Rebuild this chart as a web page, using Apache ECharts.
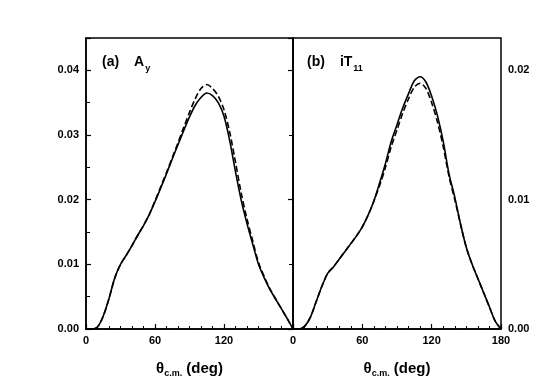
<!DOCTYPE html>
<html>
<head>
<meta charset="utf-8">
<script src="https://cdn.jsdelivr.net/npm/echarts@6/dist/echarts.min.js"></script>
<style>
  html, body { margin: 0; padding: 0; background: #fff; }
  #chart { width: 556px; height: 385px; }
</style>
</head>
<body>
<div id="chart"></div>
<script>
// angles (deg)
var angles = [0, 5, 10, 15, 20, 25, 30, 35, 40, 45, 50, 55, 60, 65, 70, 75, 80, 85, 90,
              95, 100, 105, 110, 115, 120, 125, 130, 135, 140, 145, 150, 155, 160, 165, 170, 175, 180];

// (a) A_y
var ay_solid = [0, 0, 0.0003, 0.0020, 0.0047, 0.0079, 0.0100, 0.0114, 0.0129, 0.0145, 0.0160, 0.0177,
                0.0197, 0.0218, 0.0240, 0.0263, 0.0285, 0.0307, 0.0328, 0.0346, 0.0358, 0.0365, 0.0361,
                0.0350, 0.0329, 0.0291, 0.0243, 0.0199, 0.0163, 0.0131, 0.0100, 0.0079, 0.0061, 0.0046,
                0.0031, 0.0016, 0];
var ay_dash = [0, 0, 0.0003, 0.0020, 0.0047, 0.0079, 0.0100, 0.0114, 0.0129, 0.0145, 0.0160, 0.0177,
               0.0198, 0.0220, 0.0242, 0.0265, 0.0288, 0.0312, 0.0335, 0.0356, 0.0372, 0.0378, 0.0372,
               0.0360, 0.0339, 0.0304, 0.0258, 0.0210, 0.0170, 0.0136, 0.0103, 0.0081, 0.0062, 0.0046,
               0.0031, 0.0016, 0];

// (b) iT11
var it_solid = [0, 0, 0.0002, 0.0009, 0.0021, 0.0033, 0.0043, 0.0048, 0.0054, 0.0060, 0.0066, 0.0072,
                0.0079, 0.0088, 0.0099, 0.0113, 0.0128, 0.0145, 0.0158, 0.0171, 0.0182, 0.0192, 0.0195,
                0.0191, 0.0180, 0.0165, 0.0145, 0.0120, 0.0102, 0.0081, 0.0063, 0.0050, 0.0039, 0.0028,
                0.0017, 0.0006, 0];
var it_dash = [0, 0, 0.0002, 0.0009, 0.0021, 0.0033, 0.0043, 0.0048, 0.0054, 0.0060, 0.0066, 0.0072,
               0.0079, 0.0088, 0.0099, 0.0111, 0.0125, 0.0141, 0.0154, 0.0167, 0.0178, 0.0187, 0.0190,
               0.0186, 0.0175, 0.0160, 0.0141, 0.0118, 0.0100, 0.0081, 0.0063, 0.0050, 0.0039, 0.0028,
               0.0017, 0.0006, 0];

function pairs(ys) {
    return angles.map(function (a, i) { return [a, ys[i]]; });
}

var FONT = 'Liberation Sans';
var chart = echarts.init(document.getElementById('chart'));

function xAxisOf(gridIndex, hideLast) {
    return {
        type: 'value', gridIndex: gridIndex, min: 0, max: 180, interval: 60,
        name: '{t|θ}{s|c.m.}{t| (deg)}',
        nameLocation: 'middle', nameGap: 30,
        nameTextStyle: {
            rich: {
                t: { fontFamily: FONT, fontWeight: 'bold', fontSize: 15, color: '#000' },
                s: { fontFamily: FONT, fontWeight: 'bold', fontSize: 9, color: '#000', padding: [10, 0, 0, 0] }
            }
        },
        axisLine: { lineStyle: { color: '#000', width: 1.5 } },
        axisTick: { inside: true, length: 5, lineStyle: { color: '#000', width: 1.2 } },
        minorTick: { show: true, splitNumber: 6, length: 3, lineStyle: { color: '#000', width: 1 } },
        splitLine: { show: false },
        axisLabel: {
            color: '#000', fontFamily: FONT, fontWeight: 'bold', fontSize: 11, margin: 6,
            formatter: function (v) { return (hideLast && v === 180) ? '' : String(v); }
        }
    };
}

function yAxisOf(gridIndex, pos, max) {
    return {
        type: 'value', gridIndex: gridIndex, position: pos, min: 0, max: max, interval: 0.01,
        axisLine: { show: true, lineStyle: { color: '#000', width: 1.5 } },
        axisTick: { show: true, inside: true, length: 5, lineStyle: { color: '#000', width: 1.2 } },
        minorTick: { show: true, splitNumber: 2, length: 4, lineStyle: { color: '#000', width: 1 } },
        splitLine: { show: false },
        axisLabel: {
            color: '#000', fontFamily: FONT, fontWeight: 'bold', fontSize: 11, margin: 7,
            showMaxLabel: false,
            formatter: function (v) { return v > max - 0.001 ? '' : v.toFixed(2); }
        }
    };
}

function line(name, xi, ys, dashed) {
    return {
        name: name, type: 'line', xAxisIndex: xi, yAxisIndex: xi,
        data: pairs(ys), smooth: 0.3, showSymbol: false, symbol: 'none',
        lineStyle: { color: '#000', width: 1.6, type: dashed ? [6, 3] : 'solid' }
    };
}

// panel labels
var titleRich = {
    a: { fontFamily: FONT, fontWeight: 'bold', fontSize: 14, color: '#000' },
    b: { fontFamily: FONT, fontWeight: 'bold', fontSize: 14, color: '#000' },
    s: { fontFamily: FONT, fontWeight: 'bold', fontSize: 9, color: '#000', padding: [12, 0, 0, 1] }
};

var option = {
    animation: false,
    backgroundColor: '#fff',
    title: [
        { text: '{a|(a)}   {b|A}{s|y}', left: 97, top: 47, textStyle: { rich: titleRich } },
        { text: '{a|(b)}   {b|iT}{s|11}', left: 302, top: 47, textStyle: { rich: titleRich } }
    ],
    grid: [
        { left: 86, top: 38, width: 207, height: 291, show: true, borderColor: '#000', borderWidth: 1.5 },
        { left: 293, top: 38, width: 208, height: 291, show: true, borderColor: '#000', borderWidth: 1.5 }
    ],
    xAxis: [xAxisOf(0, true), xAxisOf(1, false)],
    yAxis: [yAxisOf(0, 'left', 0.045), yAxisOf(1, 'right', 0.0225)],
    series: [
        line('Ay solid', 0, ay_solid, false),
        line('Ay dashed', 0, ay_dash, true),
        line('iT11 solid', 1, it_solid, false),
        line('iT11 dashed', 1, it_dash, true)
    ]
};

chart.setOption(option);
</script>
</body>
</html>
